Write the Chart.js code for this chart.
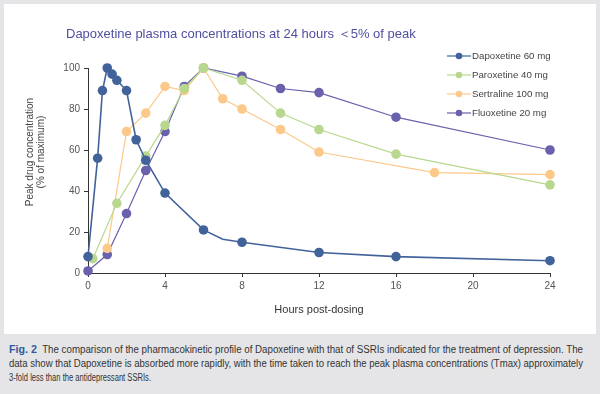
<!DOCTYPE html>
<html>
<head>
<meta charset="utf-8">
<script src="https://cdn.jsdelivr.net/npm/chart.js@4.4.1/dist/chart.umd.min.js"></script>
<style>
  html, body { margin: 0; padding: 0; }
  body { width: 600px; height: 394px; background: #e5e5e7; position: relative; overflow: hidden; font-family: "Liberation Sans", Arial, sans-serif; }
  #panel { position: absolute; left: 4px; top: 4px; width: 592px; height: 330px; background: #fff; }
  #title { position: absolute; left: 62px; top: 21px; font-size: 13px; color: #4f4f9f; white-space: nowrap; }
  #caption { position: absolute; left: 9px; top: 342px; font-size: 10px; line-height: 14px; color: #333; white-space: nowrap; }
  #caption span { display: inline-block; transform-origin: 0 50%; }
  #caption b { color: #2f5b9a; font-size: 11px; }
</style>
</head>
<body>
<div id="panel">
  <canvas id="myChart" width="592" height="330"></canvas>
  <div id="title">Dapoxetine plasma concentrations at 24 hours ＜5% of peak</div>
</div>
<div id="caption">
  <span data-w="574"><b>Fig. 2</b>&nbsp; The comparison of the pharmacokinetic profile of Dapoxetine with that of SSRIs indicated for the treatment of depression. The</span><br>
  <span data-w="574">data show that Dapoxetine is absorbed more rapidly, with the time taken to reach the peak plasma concentrations (Tmax) approximately</span><br>
  <span data-w="142">3-fold less than the antidepressant SSRIs.</span>
</div>
<script>
const seriesNames = ['Dapoxetine 60 mg', 'Paroxetine 40 mg', 'Sertraline 100 mg', 'Fluoxetine 20 mg'];
const seriesColors = ['#42639a', '#b9d88f', '#fcc98b', '#6a61ad'];

const dapHours = [0, 0.5, 0.75, 1, 1.25, 1.5, 2, 2.5, 3, 4, 6, 7, 8, 12, 16, 24];
const dapValues = [8, 56, 89, 100, 97, 94, 89, 65, 55, 39, 21, 16.5, 15, 10, 8, 6];

const parHours = [0.25, 1.5, 3, 4, 5, 6, 8, 10, 12, 16, 24];
const parValues = [7, 34, 57, 72, 90, 100, 94, 78, 70, 58, 43];

const serHours = [1, 2, 3, 4, 5, 6, 7, 8, 10, 12, 18, 24];
const serValues = [12, 69, 78, 91, 89, 100, 85, 80, 70, 59, 49, 48];

const fluHours = [0, 1, 2, 3, 4, 5, 6, 8, 10, 12, 16, 24];
const fluValues = [1, 9, 29, 50, 69, 91, 100, 96, 90, 88, 76, 60];

const xTicks = [0, 4, 8, 12, 16, 20, 24];
const yTicks = [0, 20, 40, 60, 80, 100];
const yTitle = ['Peak drug concentration', '(% of maximum)'];

// squeeze caption lines to the widths of the printed figure
document.querySelectorAll('#caption span').forEach((s) => {
  const w = s.getBoundingClientRect().width;
  s.style.transform = 'scaleX(' + (Number(s.dataset.w) / w) + ')';
});

const toPoints = (hours, values) => hours.map((h, i) => ({ x: h, y: values[i] }));

const series = [
  toPoints(dapHours, dapValues),
  toPoints(parHours, parValues),
  toPoints(serHours, serValues),
  toPoints(fluHours, fluValues),
];

// the 7 h point of dapoxetine has no marker in the figure
const noMarkerAt = [[11], [], [], []];

const datasets = series.map((pts, i) => ({
  label: seriesNames[i],
  data: pts,
  borderColor: seriesColors[i],
  backgroundColor: seriesColors[i],
  borderWidth: i === 0 ? 1.6 : 1.2,
  pointRadius: pts.map((p, k) => (noMarkerAt[i].includes(k) ? 0 : 4.8)),
  pointBorderWidth: 0,
  pointBorderColor: seriesColors[i],
  tension: 0,
  clip: false,
}));

// legend (line with a dot) and the y title, which sits a bit above the axis middle
const extras = {
  id: 'extras',
  afterDraw(chart) {
    const { ctx } = chart;
    ctx.save();
    chart.data.datasets.forEach((ds, i) => {
      const y = 52 + i * 19;
      ctx.strokeStyle = ds.borderColor;
      ctx.lineWidth = 1.2;
      ctx.beginPath();
      ctx.moveTo(443, y);
      ctx.lineTo(467, y);
      ctx.stroke();
      ctx.fillStyle = ds.borderColor;
      ctx.beginPath();
      ctx.arc(455, y, 3.3, 0, Math.PI * 2);
      ctx.fill();
      ctx.fillStyle = '#444';
      ctx.font = '9.7px "Liberation Sans", sans-serif';
      ctx.textBaseline = 'middle';
      ctx.textAlign = 'left';
      ctx.fillText(ds.label, 468, y + 0.5);
    });

    const yScale = chart.scales.y;
    const midY = yScale.getPixelForValue(59);
    ctx.translate(26, midY);
    ctx.rotate(-Math.PI / 2);
    ctx.fillStyle = '#444';
    ctx.font = '10px "Liberation Sans", sans-serif';
    ctx.textAlign = 'center';
    ctx.textBaseline = 'middle';
    yTitle.forEach((t, i) => ctx.fillText(t, 0, i * 11));
    ctx.restore();
  },
};

new Chart(document.getElementById('myChart').getContext('2d'), {
  type: 'line',
  data: { datasets },
  plugins: [extras],
  options: {
    responsive: false,
    animation: false,
    layout: { padding: { top: 64, right: 46, left: 0, bottom: 0 } },
    plugins: {
      legend: { display: false },
      tooltip: { enabled: false },
    },
    scales: {
      x: {
        type: 'linear',
        min: 0,
        max: 24,
        afterBuildTicks: (scale) => { scale.ticks = xTicks.map((v) => ({ value: v })); },
        afterFit: (scale) => { scale.height = 61; },
        ticks: { color: '#555', font: { size: 10, family: '"Liberation Sans", sans-serif' }, padding: 3 },
        grid: { display: true, drawOnChartArea: false, drawTicks: true, tickLength: 4, color: '#333' },
        border: { color: '#333', width: 1 },
        title: {
          display: true,
          text: 'Hours post-dosing',
          color: '#333',
          font: { size: 11, family: '"Liberation Sans", sans-serif' },
          padding: { top: 0, bottom: 17 },
        },
      },
      y: {
        min: 0,
        max: 100,
        afterBuildTicks: (scale) => { scale.ticks = yTicks.map((v) => ({ value: v })); },
        afterFit: (scale) => { scale.width = 84; },
        ticks: { color: '#555', font: { size: 10, family: '"Liberation Sans", sans-serif' }, padding: 4 },
        grid: { display: true, drawOnChartArea: false, drawTicks: true, tickLength: 4, color: '#333' },
        border: { color: '#333', width: 1 },
      },
    },
  },
});
</script>
</body>
</html>
